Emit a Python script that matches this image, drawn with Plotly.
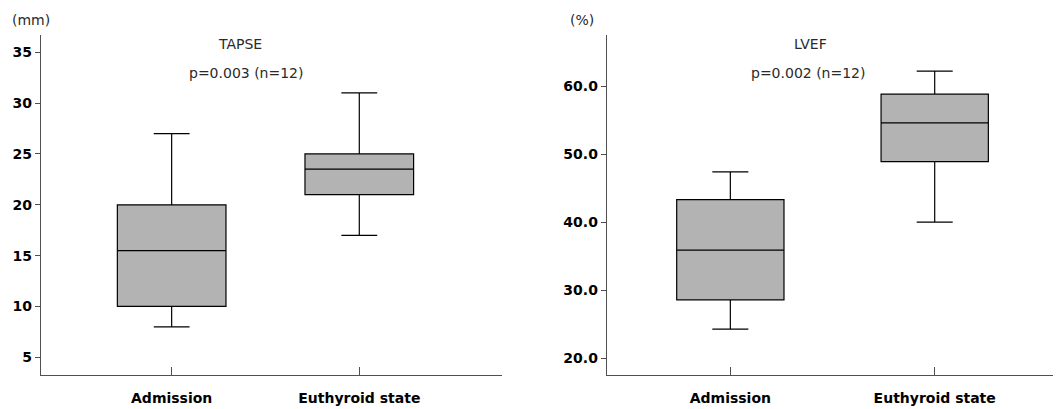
import plotly.graph_objects as go

categories = ["Admission", "Euthyroid state"]

# TAPSE (mm)
tapse_lower = [8.0, 17.0]
tapse_q1 = [10.0, 21.0]
tapse_median = [15.5, 23.5]
tapse_q3 = [20.0, 25.0]
tapse_upper = [27.0, 31.0]
tapse_ticks = [5, 10, 15, 20, 25, 30, 35]

# LVEF (%)
lvef_lower = [24.3, 40.0]
lvef_q1 = [28.6, 48.9]
lvef_median = [35.9, 54.6]
lvef_q3 = [43.3, 58.8]
lvef_upper = [47.4, 62.2]
lvef_ticks = [20, 30, 40, 50, 60]

FONT = "DejaVu Sans"
FILL = "#b3b3b3"
AXC = "#505050"

# page has an 8px body margin; size the figure so it fits the window
OFF = 8
W, H = 1061 - OFF, 409 - OFF

def fx(px):
    return (px - OFF) / W

def fy(py):
    return 1 - (py - OFF) / H

fig = go.Figure()
fig.add_trace(go.Box(
    x=categories, q1=tapse_q1, median=tapse_median, q3=tapse_q3,
    lowerfence=tapse_lower, upperfence=tapse_upper,
    fillcolor=FILL, line=dict(color="black", width=1.2),
    width=0.579, whiskerwidth=0.33, boxpoints=False,
    xaxis="x", yaxis="y", showlegend=False, hoverinfo="skip"))
fig.add_trace(go.Box(
    x=categories, q1=lvef_q1, median=lvef_median, q3=lvef_q3,
    lowerfence=lvef_lower, upperfence=lvef_upper,
    fillcolor=FILL, line=dict(color="black", width=1.2),
    width=0.525, whiskerwidth=0.336, boxpoints=False,
    xaxis="x2", yaxis="y2", showlegend=False, hoverinfo="skip"))

ax_common = dict(showline=True, linecolor=AXC, linewidth=1, showgrid=False,
                 zeroline=False, tickcolor=AXC, tickwidth=1, fixedrange=True)
xt = dict(ticks="inside", ticklen=8, ticklabelstandoff=10,
          tickfont=dict(family=FONT, size=14, color="black", weight="bold"))
yt = dict(ticks="outside", ticklen=5,
          tickfont=dict(family=FONT, size=14, color="black", weight="bold"))

fig.update_layout(
    width=W, height=H,
    margin=dict(l=0, r=0, t=0, b=0),
    paper_bgcolor="white", plot_bgcolor="white",
    font=dict(family=FONT, color="black"),
    xaxis=dict(domain=[fx(40.7), fx(501.7)], type="category",
               range=[-0.698, 1.759], anchor="y", **ax_common, **xt),
    yaxis=dict(domain=[fy(375), fy(35)], range=[3.26, 36.7],
               tickvals=tapse_ticks, anchor="x", **ax_common, **yt),
    xaxis2=dict(domain=[fx(606.7), 1.0], type="category",
                range=[-0.605, 1.618], anchor="y2", **ax_common, **xt),
    yaxis2=dict(domain=[fy(375), fy(35)], range=[17.55, 67.5],
                tickvals=lvef_ticks, tickformat=".1f", anchor="x2",
                **ax_common, **yt),
)

ann = [
    ("(mm)", 31, 20),
    ("TAPSE", 240, 44),
    ("p=0.003 (n=12)", 246, 73),
    ("(%)", 582, 20),
    ("LVEF", 810, 44),
    ("p=0.002 (n=12)", 808, 73),
]
for text, px, py in ann:
    fig.add_annotation(text=text, x=fx(px), y=fy(py), xref="paper", yref="paper",
                       showarrow=False, xanchor="center", yanchor="middle",
                       font=dict(family=FONT, size=14, color="#2a2a2a"))

fig.write_html("out.html")
